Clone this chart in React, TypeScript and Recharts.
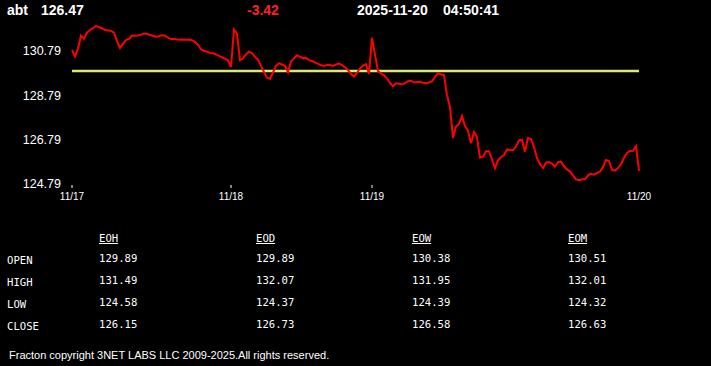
import React from "react";
import { LineChart, Line, XAxis, YAxis, ReferenceLine } from "recharts";

const symbol = "abt";
const lastPrice = "126.47";
const change = "-3.42";
const quoteDate = "2025-11-20";
const quoteTime = "04:50:41";

const dayLabels = ["11/17", "11/18", "11/19", "11/20"];
const dayIndex = [0, 53, 100, 189];
const priceTicks = [124.79, 126.79, 128.79, 130.79];
const openLevel = 129.89;

// intraday prices left to right
const prices = [
  130.84, 130.55, 130.9, 131.48, 131.35, 131.62, 131.74, 131.82, 131.92, 131.86,
  131.82, 131.74, 131.72, 131.7, 131.62, 131.24, 130.93, 131.11, 131.28, 131.34,
  131.49, 131.48, 131.49, 131.53, 131.57, 131.57, 131.51, 131.48, 131.44, 131.46,
  131.5, 131.48, 131.39, 131.33, 131.33, 131.31, 131.3, 131.31, 131.3, 131.3,
  131.28, 131.19, 131.08, 130.86, 130.8, 130.76, 130.7, 130.69, 130.64, 130.57,
  130.51, 130.45, 130.37, 130.07, 131.76, 131.58, 130.38, 130.45, 130.65, 130.76,
  130.7, 130.52, 130.4, 130.11, 129.84, 129.59, 129.54, 129.82, 130.12, 130.24,
  130.18, 130.12, 129.83, 130.32, 130.46, 130.6, 130.53, 130.47, 130.48, 130.38,
  130.34, 130.28, 130.21, 130.15, 130.12, 130.16, 130.16, 130.12, 130.18, 130.22,
  130.16, 130.05, 129.94, 129.75, 129.64, 129.8, 130.01, 130.13, 130.2, 129.75,
  131.38, 130.63, 129.89, 129.77, 129.69, 129.56, 129.35, 129.2, 129.33, 129.31,
  129.28, 129.34, 129.43, 129.45, 129.37, 129.39, 129.4, 129.36, 129.34, 129.37,
  129.42, 129.63, 129.79, 129.73, 129.71, 128.8, 128.27, 126.87, 127.38, 127.5,
  127.85, 127.4, 127.19, 126.63, 127.13, 126.9, 125.98, 126.02, 126.27, 126.27,
  125.9, 125.5, 125.86, 126.0, 126.1, 126.35, 126.32, 126.31, 126.47, 126.76,
  126.78, 126.25, 126.86, 126.82, 126.46, 125.96, 125.69, 125.51, 125.75, 125.78,
  125.71, 125.57, 125.78, 125.8, 125.59, 125.45, 125.35, 125.18, 125.0, 124.96,
  125.0, 125.0, 125.18, 125.25, 125.21, 125.28, 125.35, 125.55, 125.87, 125.83,
  125.42, 125.4, 125.51, 125.68, 125.97, 126.19, 126.28, 126.29, 126.5, 125.38,
];

const columns = ["EOH", "EOD", "EOW", "EOM"];
const rowNames = ["OPEN", "HIGH", "LOW", "CLOSE"];
const openVals = ["129.89", "129.89", "130.38", "130.51"];
const highVals = ["131.49", "132.07", "131.95", "132.01"];
const lowVals = ["124.58", "124.37", "124.39", "124.32"];
const closeVals = ["126.15", "126.73", "126.58", "126.63"];

const footer = "Fracton copyright 3NET LABS LLC 2009-2025.All rights reserved.";

const sans = "'Liberation Sans', Arial, sans-serif";
const mono = "'DejaVu Sans Mono', monospace";

const colX = [99, 256, 412, 568];
const rowY = [251, 273, 295, 317];

const DayTick = (props: any) => {
  const { x, y, payload, index } = props;
  const label = dayLabels[dayIndex.indexOf(payload.value)] ?? "";
  return (
    <g>
      {index < dayLabels.length - 1 && (
        <line x1={x} x2={x} y1={y + 1} y2={y + 4} stroke="#fff" strokeWidth={1} />
      )}
      <text x={x} y={y + 16} textAnchor="middle" fill="#fff" fontSize={10} fontFamily={sans}>
        {label}
      </text>
    </g>
  );
};

const App = () => {
  const data = prices.map((p, i) => ({ i, p }));
  const tableRows = [openVals, highVals, lowVals, closeVals];

  return (
    <div
      style={{
        position: "absolute",
        left: 0,
        top: 0,
        width: 711,
        height: 366,
        background: "#000",
        color: "#fff",
        overflow: "hidden",
      }}
    >
      <div style={{ position: "absolute", left: 7, top: 2, font: `bold 14px ${sans}`, lineHeight: "16px" }}>
        {symbol}
      </div>
      <div style={{ position: "absolute", left: 41, top: 2, font: `bold 14px ${sans}`, lineHeight: "16px" }}>
        {lastPrice}
      </div>
      <div
        style={{ position: "absolute", left: 247, top: 2, font: `bold 14px ${sans}`, lineHeight: "16px", color: "#ff2020" }}
      >
        {change}
      </div>
      <div style={{ position: "absolute", left: 357, top: 2, font: `bold 14px ${sans}`, lineHeight: "16px" }}>
        {quoteDate}
      </div>
      <div style={{ position: "absolute", left: 443, top: 2, font: `bold 14px ${sans}`, lineHeight: "16px" }}>
        {quoteTime}
      </div>

      <div style={{ position: "absolute", left: 0, top: 0 }}>
        <LineChart width={711} height={210} data={data} margin={{ top: 20, right: 72, bottom: 0, left: 0 }}>
          <XAxis
            dataKey="i"
            type="number"
            domain={[0, prices.length - 1]}
            ticks={dayIndex}
            interval={0}
            axisLine={false}
            tickLine={false}
            tickSize={0}
            tickMargin={0}
            height={26}
            tick={<DayTick />}
          />
          <YAxis
            type="number"
            domain={[124.79, 132.19]}
            ticks={priceTicks}
            allowDataOverflow
            width={72}
            axisLine={false}
            tickLine={false}
            tickSize={0}
            tickMargin={11}
            tickFormatter={(v: number) => v.toFixed(2)}
            tick={{ fill: "#fff", fontSize: 12.5, fontFamily: sans }}
          />
          <ReferenceLine y={openLevel} stroke="#dce775" strokeWidth={2.5} />
          <Line
            type="linear"
            dataKey="p"
            stroke="#ff0000"
            strokeWidth={2}
            dot={false}
            isAnimationActive={false}
          />
        </LineChart>
      </div>

      {columns.map((c, k) => (
        <div
          key={c}
          style={{
            position: "absolute",
            left: colX[k],
            top: 231,
            font: `10.6px ${mono}`,
            lineHeight: "14px",
            textDecoration: "underline",
          }}
        >
          {c}
        </div>
      ))}
      {rowNames.map((r, k) => (
        <div
          key={r}
          style={{ position: "absolute", left: 7, top: rowY[k] + 2, font: `10.6px ${mono}`, lineHeight: "14px" }}
        >
          {r}
        </div>
      ))}
      {tableRows.map((vals, k) =>
        vals.map((v, j) => (
          <div
            key={`${k}-${j}`}
            style={{ position: "absolute", left: colX[j], top: rowY[k], font: `10.6px ${mono}`, lineHeight: "14px" }}
          >
            {v}
          </div>
        ))
      )}

      <div style={{ position: "absolute", left: 9, top: 348, font: `11px ${sans}`, lineHeight: "14px" }}>
        {footer}
      </div>
    </div>
  );
};

export default App;
